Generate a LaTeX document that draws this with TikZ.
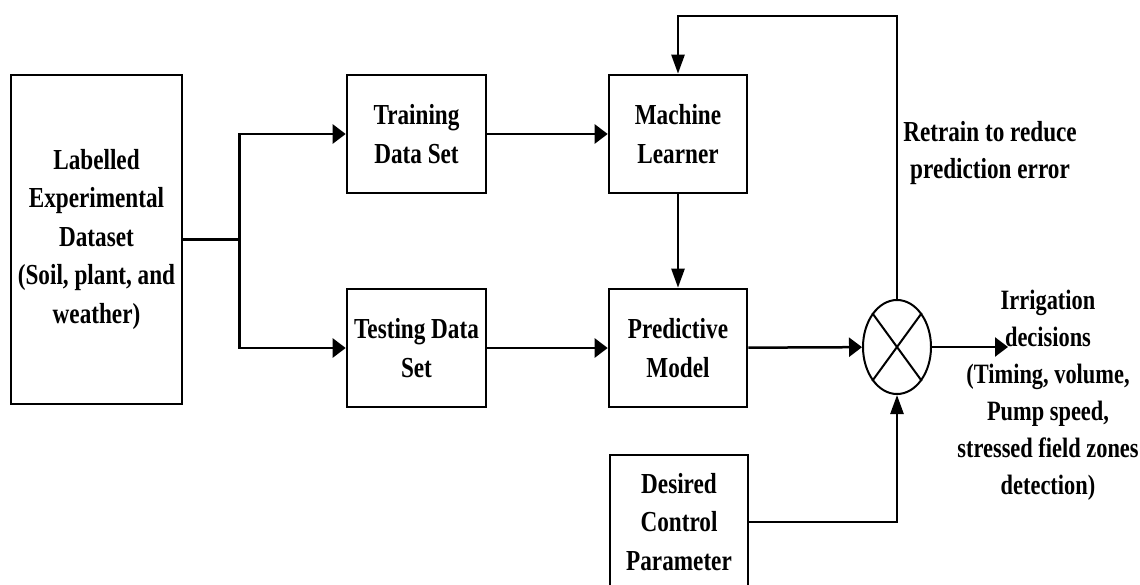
\documentclass[tikz,border=0pt]{standalone}
\usepackage{fontspec}
\setmainfont{Liberation Serif}[FakeStretch=0.8]
\usetikzlibrary{arrows.meta,shapes.geometric}
\begin{document}
\begin{tikzpicture}[x=1pt,y=-1pt,
  box/.style={draw, line width=2.6pt, inner sep=0pt, align=center,
    font=\bfseries\fontsize{29}{38.5}\selectfont},
  lbl/.style={inner sep=0pt, align=center, font=\bfseries\fontsize{29}{37}\selectfont},
  ln/.style={line width=2.5pt},
  harr/.style={line width=2.5pt, -{Triangle[length=13pt,width=19pt]}},
  varr/.style={line width=2.5pt, -{Triangle[length=19pt,width=13pt]}}]
\useasboundingbox (0,0) rectangle (1140,585);
\node[box, minimum width=171pt, minimum height=329pt] (src) at (96.5,239.5)
  {Labelled\\Experimental\\Dataset\\(Soil, plant, and\\weather)};
\node[box, minimum width=139pt, minimum height=118pt] (train) at (416.5,134) {Training\\Data Set};
\node[box, minimum width=139pt, minimum height=118pt] (test) at (416.5,348) {Testing Data\\Set};
\node[box, minimum width=138pt, minimum height=118pt] (ml) at (678,134) {Machine\\Learner};
\node[box, minimum width=138pt, minimum height=118pt] (pred) at (678,348) {Predictive\\Model};
\node[box, minimum width=138pt, minimum height=134pt] (des) at (679,522) {Desired\\Control\\Parameter};
\node[draw, ellipse, line width=2pt, inner sep=0pt, minimum width=68pt, minimum height=94pt] (e) at (897,347) {};
\draw[line width=2pt] (e.north west) -- (e.south east) (e.north east) -- (e.south west);

\draw[ln] (src.east) -- ++(56,0) coordinate (br);
\draw[harr] (br) |- (train.west);
\draw[harr] (br) |- (test.west);
\draw[harr] (train) -- (ml);
\draw[harr] (test) -- (pred);
\draw[varr] (ml) -- (pred);
\draw[harr] (pred) -- (e);
\coordinate (out) at (1008,347);
\draw[harr] (e) -- (out);
\draw[varr] (des.east) -| (e.south);
\coordinate (top) at (897,16);
\draw[varr] (e.north) -- (top) -| (ml.north);

\node[lbl] (retrain) at (990,153) {Retrain to reduce\\prediction error};
\node[lbl, font=\bfseries\fontsize{28}{37}\selectfont] (irr) at (1048,395) {Irrigation\\decisions\\(Timing, volume,\\Pump speed,\\stressed field zones\\detection)};
\end{tikzpicture}
\end{document}
